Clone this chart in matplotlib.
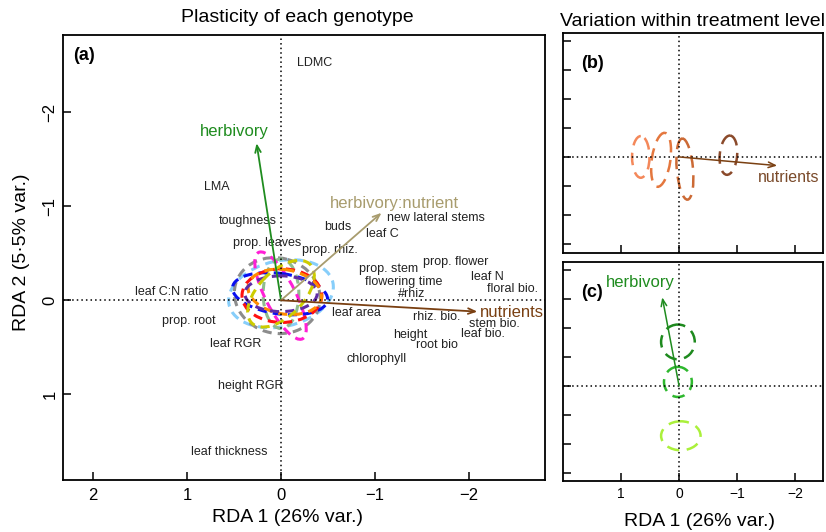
import matplotlib
matplotlib.use("Agg")
import matplotlib.pyplot as plt
from matplotlib.patches import Ellipse

plt.rcParams["font.family"] = ["Liberation Sans", "DejaVu Sans"]

# ---- panel (a): trait scores ----
trait_names = ["LDMC", "LMA", "toughness", "prop. leaves", "prop. rhiz.", "buds",
               "leaf C", "new lateral stems", "prop. stem", "prop. flower",
               "flowering time", "#rhiz", "leaf N", "floral bio.", "leaf area",
               "rhiz. bio.", "stem bio.", "leaf bio.", "height", "root bio",
               "chlorophyll", "leaf C:N ratio", "prop. root", "leaf RGR",
               "height RGR", "leaf thickness"]
trait_x = [-0.36, 0.68, 0.35, 0.15, -0.52, -0.60, -1.08, -1.65, -1.15, -1.86,
           -1.31, -1.39, -2.20, -2.46, -0.80, -1.66, -2.27, -2.15, -1.38, -1.66,
           -1.02, 1.16, 0.98, 0.48, 0.32, 0.55]
trait_y = [-2.52, -1.20, -0.84, -0.61, -0.54, -0.78, -0.71, -0.88, -0.33, -0.41,
           -0.19, -0.07, -0.25, -0.12, 0.13, 0.18, 0.25, 0.36, 0.37, 0.47,
           0.62, -0.09, 0.22, 0.46, 0.91, 1.61]

# treatment vectors (panel a)
vec_names = ["herbivory", "herbivory:nutrient", "nutrients"]
vec_x = [0.26, -1.07, -2.09]
vec_y = [-1.67, -0.93, 0.12]
vec_colors = ["#1f8c1f", "#a89c6e", "#7a4012"]

# genotype ellipses (panel a): centre x, centre y, width, height, angle
geno_colors = ["#87cefa", "#8c8c8c", "#8fbc8f", "#ff1fd6", "#0a10f0",
               "#ff1010", "#ff8c00", "#5e2ca5", "#cccc00"]
geno_cx = [0.00, 0.04, 0.00, 0.005, 0.01, -0.01, -0.04, 0.00, 0.00]
geno_cy = [-0.07, -0.05, -0.07, -0.05, -0.07, -0.05, -0.09, -0.07, -0.07]
geno_w = [1.13, 0.92, 0.38, 1.03, 1.02, 0.85, 0.79, 0.77, 0.88]
geno_h = [0.70, 0.80, 0.74, 0.32, 0.43, 0.57, 0.47, 0.38, 0.48]
geno_ang = [12, -15, 0, 117, -8, 0, -10, 0, 45]

# ---- panel (b): nutrient levels ----
nut_colors = ["#f4885a", "#e4773e", "#cc6a35", "#8b4a2b"]
nut_cx = [0.66, 0.31, -0.10, -0.85]
nut_cy = [0.00, 0.05, 0.21, -0.03]
nut_w = [0.30, 0.32, 0.28, 0.30]
nut_h = [0.72, 0.94, 1.06, 0.68]
nut_ang = [0, -8, 5, -5]
nut_vec = (-1.69, 0.15)

# ---- panel (c): herbivory levels ----
herb_colors = ["#1e8a1e", "#2eb82e", "#aaf03a"]
herb_cx = [0.02, 0.02, -0.03]
herb_cy = [-0.76, -0.07, 0.86]
herb_w = [0.58, 0.48, 0.68]
herb_h = [0.60, 0.52, 0.50]
herb_vec = (0.29, -1.53)

fig = plt.figure(figsize=(8.26, 5.32), dpi=100)
ax_a = fig.add_axes([0.0763, 0.0977, 0.5835, 0.8365])
ax_b = fig.add_axes([0.6816, 0.5244, 0.3148, 0.4135])
ax_c = fig.add_axes([0.6816, 0.0959, 0.3148, 0.4117])


def style_axes(ax):
    for s in ax.spines.values():
        s.set_linewidth(1.3)
    ax.tick_params(direction="in", length=6, width=1.1)
    ax.axhline(0, color="black", ls=(0, (1, 2)), lw=1.1)
    ax.axvline(0, color="black", ls=(0, (1, 2)), lw=1.1)


def arrow(ax, x, y, color, lw=1.3):
    ax.annotate("", xy=(x, y), xytext=(0, 0),
                arrowprops=dict(arrowstyle="->,head_length=0.5,head_width=0.2",
                                color=color, lw=lw, shrinkA=0, shrinkB=0))


# panel (a)
style_axes(ax_a)
ax_a.set_xlim(2.32, -2.81)
ax_a.set_ylim(1.91, -2.82)
ax_a.set_xticks([2, 1, 0, -1, -2])
ax_a.set_xticklabels(["2", "1", "0", "\u22121", "\u22122"])
ax_a.set_yticks([-2, -1, 0, 1])
ax_a.set_yticklabels(["\u22122", "\u22121", "0", "1"], rotation=90, va="center")
ax_a.tick_params(axis="x", labelsize=12, pad=6)
ax_a.tick_params(axis="y", labelsize=12, pad=4)

for c, x, y, w, h, a in zip(geno_colors, geno_cx, geno_cy, geno_w, geno_h, geno_ang):
    ax_a.add_patch(Ellipse((x, y), w, h, angle=a, fill=False, ec=c, lw=2.2,
                           ls=(0, (3, 2))))

for n, x, y in zip(trait_names, trait_x, trait_y):
    ax_a.text(x, y, n, fontsize=9, ha="center", va="center", color="#222222")

for n, x, y, c in zip(vec_names, vec_x, vec_y, vec_colors):
    arrow(ax_a, x, y, c)
ax_a.text(0.50, -1.79, "herbivory", color=vec_colors[0], fontsize=12,
          ha="center", va="center")
ax_a.text(-1.21, -1.03, "herbivory:nutrient", color=vec_colors[1], fontsize=12,
          ha="center", va="center")
ax_a.text(-2.12, 0.13, "nutrients", color=vec_colors[2], fontsize=12,
          ha="left", va="center")
ax_a.text(0.02, 0.955, "(a)", transform=ax_a.transAxes, fontsize=13,
          fontweight="bold", ha="left", va="center")
fig.text(287 / 826, 1 - 518 / 532, "RDA 1 (26% var.)", fontsize=14,
         ha="center", va="center")
fig.text(22 / 826, 1 - 252 / 532, "RDA 2 (5\u00b75% var.)", fontsize=14,
         ha="center", va="center", rotation=90)
fig.text(297 / 826, 1 - 18 / 532, "Plasticity of each genotype", fontsize=14,
         ha="center", va="center")

# panel (b)
style_axes(ax_b)
ax_b.set_xlim(2.0, -2.48)
ax_b.set_ylim(1.66, -2.14)
ax_b.set_xticks([1, 0, -1, -2])
ax_b.set_yticks([-2, -1.5, -1, -0.5, 0, 0.5, 1, 1.5])
ax_b.tick_params(labelbottom=False, labelleft=False)
for c, x, y, w, h, a in zip(nut_colors, nut_cx, nut_cy, nut_w, nut_h, nut_ang):
    ax_b.add_patch(Ellipse((x, y), w, h, angle=a, fill=False, ec=c, lw=1.8,
                           ls=(0, (5, 3))))
arrow(ax_b, nut_vec[0], nut_vec[1], "#7a4012", lw=1.1)
ax_b.text(-1.35, 0.36, "nutrients", color="#7a4a2a", fontsize=11.5,
          ha="left", va="center")
ax_b.text(0.07, 0.86, "(b)", transform=ax_b.transAxes, fontsize=13,
          fontweight="bold", ha="left", va="center")
fig.text(692 / 826, 1 - 21 / 532, "Variation within treatment level",
         fontsize=14, ha="center", va="center")

# panel (c)
style_axes(ax_c)
ax_c.set_xlim(2.0, -2.48)
ax_c.set_ylim(1.64, -2.14)
ax_c.set_xticks([1, 0, -1, -2])
ax_c.set_xticklabels(["1", "0", "\u22121", "\u22122"])
ax_c.set_yticks([-2, -1.5, -1, -0.5, 0, 0.5, 1, 1.5])
ax_c.tick_params(labelleft=False, labelsize=10, pad=4)
for c, x, y, w, h in zip(herb_colors, herb_cx, herb_cy, herb_w, herb_h):
    ax_c.add_patch(Ellipse((x, y), w, h, fill=False, ec=c, lw=1.8,
                           ls=(0, (5, 3))))
arrow(ax_c, herb_vec[0], herb_vec[1], "#1f8c1f", lw=1.1)
ax_c.text(0.67, -1.78, "herbivory", color="#1f8c1f", fontsize=12,
          ha="center", va="center")
ax_c.text(0.07, 0.86, "(c)", transform=ax_c.transAxes, fontsize=13,
          fontweight="bold", ha="left", va="center")
fig.text(700 / 826, 1 - 521 / 532, "RDA 1 (26% var.)", fontsize=14,
         ha="center", va="center")

fig.savefig("out.png", dpi=100)
